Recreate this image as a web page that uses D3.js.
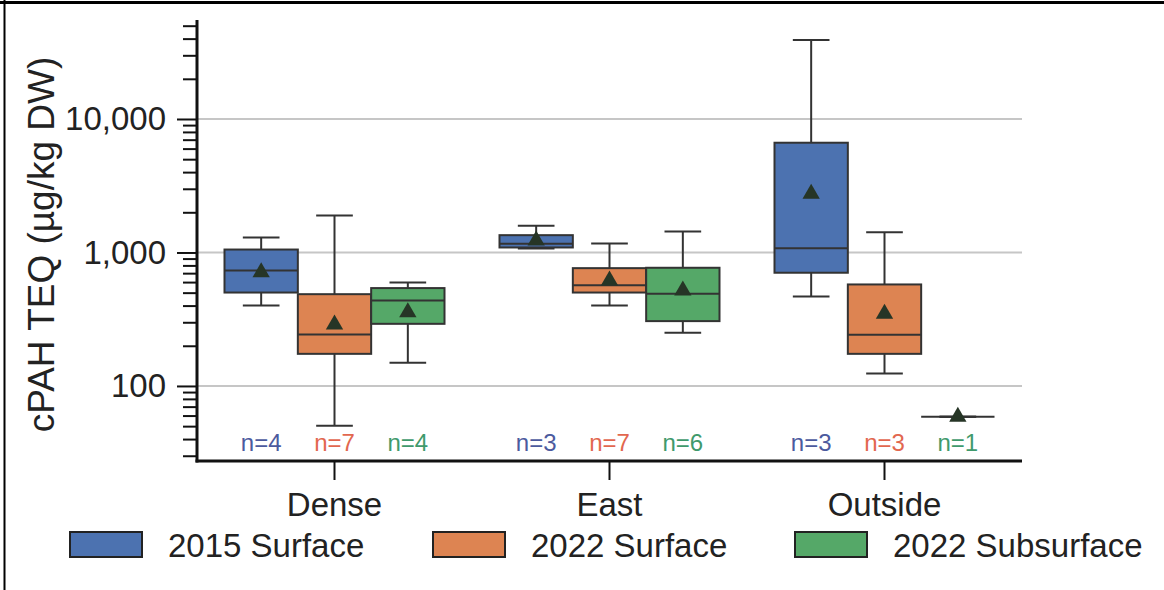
<!DOCTYPE html>
<html lang="en">
<head>
    <meta charset="UTF-8">
    <title>cPAH TEQ boxplot</title>
    <style>
        body{
            margin: 0;
            background: #fff;
        }
        .chartBlock{
            width: 1164px;
            height: 590px;
        }
        text{
            font-family: "Liberation Sans", Arial, sans-serif;
        }
    </style>
</head>
<body>
  <div class="chartBlock"></div>

  <script src="https://d3js.org/d3.v7.min.js"></script>
  <script>
    // data
    const categories = ['Dense', 'East', 'Outside']
    const seriesNames = ['2015 Surface', '2022 Surface', '2022 Subsurface']
    const seriesColors = ['#4c72b0', '#dd8452', '#55a868']
    const nColors = ['#4c5a9e', '#e2674f', '#3f9a6c']

    // per series: [whisker low, q1, median, q3, whisker high] for Dense, East, Outside
    const stats2015Surface = [[401, 501, 733, 1052, 1295], [1070, 1090, 1160, 1348, 1585], [468, 705, 1077, 6640, 39100]]
    const stats2022Surface = [[50.4, 174, 243, 487, 1893], [401, 501, 569, 763, 1168], [124, 174, 242, 576, 1420]]
    const stats2022Subsurface = [[149, 292, 437, 541, 596], [250, 306, 491, 768, 1436], [58.9, 58.9, 58.9, 58.9, 58.9]]

    const means2015Surface = [710, 1230, 2754]
    const means2022Surface = [289, 617, 348]
    const means2022Subsurface = [357, 519, 58.9]

    const counts2015Surface = [4, 3, 3]
    const counts2022Surface = [7, 7, 3]
    const counts2022Subsurface = [4, 6, 1]

    const yMajorTicks = [100, 1000, 10000]
    const yMinorTicks = [30, 40, 50, 60, 70, 80, 90, 200, 300, 400, 500, 600, 700, 800, 900,
                         2000, 3000, 4000, 5000, 6000, 7000, 8000, 9000, 20000, 30000, 40000, 50000]

    const allStats = [stats2015Surface, stats2022Surface, stats2022Subsurface]
    const allMeans = [means2015Surface, means2022Surface, means2022Subsurface]
    const allCounts = [counts2015Surface, counts2022Surface, counts2022Subsurface]

    // flatten into one row per box
    const boxes = []
    seriesNames.forEach((s, si) => {
      categories.forEach((c, ci) => {
        const [lo, q1, med, q3, hi] = allStats[si][ci]
        boxes.push({series: s, si: si, cat: c, lo, q1, med, q3, hi,
                    mean: allMeans[si][ci], n: allCounts[si][ci]})
      })
    })

    const drawBoxChart = (DOM) => {
      const svgWidth = 1164,
            svgHeight = 590,
            left = 197, right = 1022, top = 20, bottom = 461;

      const svg = d3.select(DOM)
                    .append('svg')
                    .attr('width', svgWidth)
                    .attr('height', svgHeight)

      // frame (top and left edges only)
      svg.append('line').attr('x1', 0).attr('x2', svgWidth).attr('y1', 2.5).attr('y2', 2.5)
         .attr('stroke', '#000').attr('stroke-width', 3)
      svg.append('line').attr('x1', 4.5).attr('x2', 4.5).attr('y1', 0).attr('y2', svgHeight)
         .attr('stroke', '#000').attr('stroke-width', 2)

      // scales
      const yScale = d3.scaleLog()
                       .domain([27.4, 55160])
                       .range([bottom, top])

      const xScale = d3.scaleBand()
                       .domain(categories)
                       .range([left, right])

      const groupWidth = xScale.bandwidth() * 0.8
      const xSub = d3.scaleBand()
                     .domain(seriesNames)
                     .range([-groupWidth / 2, groupWidth / 2])

      const color = d3.scaleOrdinal().domain(seriesNames).range(seriesColors)
      const nColor = d3.scaleOrdinal().domain(seriesNames).range(nColors)

      // grid lines
      svg.append('g')
         .selectAll('line')
         .data(yMajorTicks)
         .join('line')
         .attr('x1', left)
         .attr('x2', right)
         .attr('y1', d => yScale(d))
         .attr('y2', d => yScale(d))
         .attr('stroke', '#c6c6c6')
         .attr('stroke-width', 2)

      // y axis: minor ticks, then major with labels
      const yMinor = d3.axisLeft(yScale)
                       .tickValues(yMinorTicks)
                       .tickSize(14)
                       .tickSizeOuter(0)
                       .tickFormat('')
      svg.append('g')
         .attr('transform', `translate(${left},0)`)
         .call(yMinor)
         .call(g => g.select('.domain').remove())
         .call(g => g.selectAll('.tick line').attr('stroke', '#111').attr('stroke-width', 2))

      const yAxis = d3.axisLeft(yScale)
                      .tickValues(yMajorTicks)
                      .tickSize(20)
                      .tickSizeOuter(0)
                      .tickPadding(11)
                      .tickFormat(d3.format(','))
      svg.append('g')
         .attr('transform', `translate(${left},0)`)
         .call(yAxis)
         .call(g => g.select('.domain').remove())
         .call(g => g.selectAll('.tick line').attr('stroke', '#111').attr('stroke-width', 2))
         .call(g => g.selectAll('.tick text')
                     .attr('font-size', '33px')
                     .attr('fill', '#222')
                     .attr('font-family', '"Liberation Sans", Arial, sans-serif'))

      // x axis
      const xAxis = d3.axisBottom(xScale)
                      .tickSize(19)
                      .tickSizeOuter(0)
                      .tickPadding(13)
      svg.append('g')
         .attr('transform', `translate(0,${bottom})`)
         .call(xAxis)
         .call(g => g.select('.domain').remove())
         .call(g => g.selectAll('.tick line').attr('stroke', '#111').attr('stroke-width', 2))
         .call(g => g.selectAll('.tick text')
                     .attr('font-size', '33px')
                     .attr('fill', '#222')
                     .attr('font-family', '"Liberation Sans", Arial, sans-serif'))

      // axis spines
      svg.append('line').attr('x1', left).attr('x2', left).attr('y1', top).attr('y2', bottom + 1.5)
         .attr('stroke', '#111').attr('stroke-width', 3)
      svg.append('line').attr('x1', left - 1.5).attr('x2', right).attr('y1', bottom).attr('y2', bottom)
         .attr('stroke', '#111').attr('stroke-width', 3)

      // y label
      svg.append('text')
         .attr('transform', `translate(54, ${(top + bottom) / 2 + 4}) rotate(-90)`)
         .attr('text-anchor', 'middle')
         .attr('font-size', '37px')
         .attr('fill', '#222')
         .text('cPAH TEQ (µg/kg DW)')

      // boxes
      const boxW = xSub.bandwidth()
      const cx = d => xScale(d.cat) + xScale.bandwidth() / 2 + xSub(d.series) + boxW / 2
      const lineColor = '#333'

      const box = svg.append('g')
                     .selectAll('g')
                     .data(boxes)
                     .join('g')

      // whiskers
      box.append('line')
         .attr('x1', cx).attr('x2', cx)
         .attr('y1', d => yScale(d.hi)).attr('y2', d => yScale(d.q3))
         .attr('stroke', lineColor).attr('stroke-width', 2)
      box.append('line')
         .attr('x1', cx).attr('x2', cx)
         .attr('y1', d => yScale(d.q1)).attr('y2', d => yScale(d.lo))
         .attr('stroke', lineColor).attr('stroke-width', 2)
      // caps
      ;['hi', 'lo'].forEach(k => {
        box.append('line')
           .attr('x1', d => cx(d) - boxW / 4).attr('x2', d => cx(d) + boxW / 4)
           .attr('y1', d => yScale(d[k])).attr('y2', d => yScale(d[k]))
           .attr('stroke', lineColor).attr('stroke-width', 2)
      })
      // box body
      box.append('rect')
         .attr('x', d => cx(d) - boxW / 2)
         .attr('width', boxW)
         .attr('y', d => yScale(d.q3))
         .attr('height', d => yScale(d.q1) - yScale(d.q3))
         .attr('fill', d => color(d.series))
         .attr('stroke', lineColor)
         .attr('stroke-width', 2)
      // median
      box.append('line')
         .attr('x1', d => cx(d) - boxW / 2).attr('x2', d => cx(d) + boxW / 2)
         .attr('y1', d => yScale(d.med)).attr('y2', d => yScale(d.med))
         .attr('stroke', lineColor).attr('stroke-width', 2)
      // mean marker
      box.append('path')
         .attr('d', d3.symbol(d3.symbolTriangle).size(130))
         .attr('transform', d => `translate(${cx(d)}, ${yScale(d.mean)})`)
         .attr('fill', '#263526')

      // sample counts
      box.append('text')
         .attr('x', cx)
         .attr('y', 451)
         .attr('text-anchor', 'middle')
         .attr('font-size', '24px')
         .attr('fill', d => nColor(d.series))
         .text(d => `n=${d.n}`)

      // legend
      const legendX = [70, 433, 795]
      const legend = svg.append('g')
                        .selectAll('g')
                        .data(seriesNames)
                        .join('g')
                        .attr('transform', (d, i) => `translate(${legendX[i]}, 532)`)
      legend.append('rect')
            .attr('width', 72)
            .attr('height', 25)
            .attr('fill', d => color(d))
            .attr('stroke', '#222')
            .attr('stroke-width', 2)
      legend.append('text')
            .attr('x', 98)
            .attr('y', 25)
            .attr('font-size', '33px')
            .attr('fill', '#222')
            .text(d => d)
    };

    drawBoxChart('.chartBlock')
  </script>
</body>
</html>
